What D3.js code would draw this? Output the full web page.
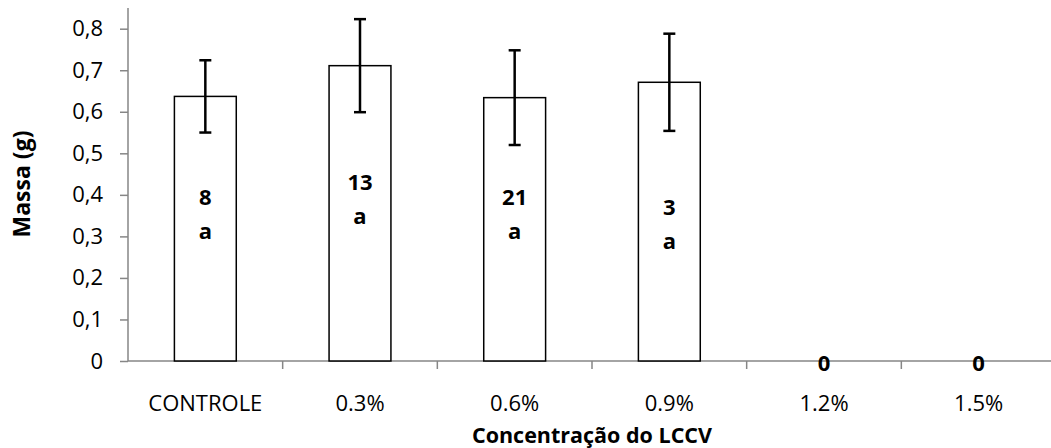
<!DOCTYPE html>
<html>
<head>
<meta charset="utf-8">
<script src="https://cdn.jsdelivr.net/npm/d3@7"></script>
<style>
  body { margin: 0; background: #fff; }
  text { font-family: "Open Sans", sans-serif; fill: #000; }
</style>
</head>
<body>
<div id="chart"></div>
<script>
// data
var categories = ["CONTROLE", "0.3%", "0.6%", "0.9%", "1.2%", "1.5%"];
var means = [0.637, 0.711, 0.634, 0.671, 0, 0];
var errors = [0.087, 0.112, 0.114, 0.117, 0, 0];
var counts = ["8", "13", "21", "3", "0", "0"];
var letters = ["a", "a", "a", "a", "", ""];
// where the label pair sits, in axis units
var labelLevel = [0.354, 0.39, 0.352, 0.33, 0, 0];
var yTicks = [0, 0.1, 0.2, 0.3, 0.4, 0.5, 0.6, 0.7, 0.8];

var width = 1051, height = 448;
var margin = {top: 8, left: 128, bottom: 87, right: 0};
var plotRight = 1056;

var svg = d3.select("#chart").append("svg")
  .attr("width", width)
  .attr("height", height);

var x = d3.scaleBand()
  .domain(categories)
  .range([margin.left, plotRight]);

var y = d3.scaleLinear()
  .domain([0, 0.8])
  .range([361, 28.7]);

var axisColor = "#868686";

// y axis
var yAxis = svg.append("g")
  .attr("transform", "translate(" + margin.left + ",0)")
  .call(d3.axisLeft(y).tickValues(yTicks).tickSize(8).tickPadding(17)
    .tickFormat(function(d){ return d === 0 ? "0" : d3.format(".1f")(d).replace(".", ","); }));
yAxis.select(".domain").attr("d", "M0," + margin.top + "V" + y(0)).attr("stroke", axisColor).attr("stroke-width", 1.5);
yAxis.selectAll(".tick line").attr("stroke", axisColor).attr("stroke-width", 1.5);
yAxis.selectAll("text").attr("font-size", 22).style("font-family", "'Open Sans', sans-serif").attr("fill", "#000");

// x axis line and ticks between categories
svg.append("line")
  .attr("x1", margin.left).attr("x2", plotRight)
  .attr("y1", y(0)).attr("y2", y(0))
  .attr("stroke", axisColor).attr("stroke-width", 1.5);

svg.selectAll("line.xtick")
  .data(categories.slice(1))
  .enter()
  .append("line")
    .attr("class", "xtick")
    .attr("x1", function(d){ return x(d); })
    .attr("x2", function(d){ return x(d); })
    .attr("y1", y(0)).attr("y2", y(0) + 8)
    .attr("stroke", axisColor).attr("stroke-width", 1.5);

svg.selectAll("text.xlabel")
  .data(categories)
  .enter()
  .append("text")
    .attr("class", "xlabel")
    .attr("x", function(d){ return x(d) + x.bandwidth() / 2; })
    .attr("y", 411)
    .attr("text-anchor", "middle")
    .attr("font-size", 22)
    .text(function(d){ return d; });

// bars
var barW = x.bandwidth() * 0.4;
var barData = categories.map(function(c, i){ return {cat: c, mean: means[i], err: errors[i], n: counts[i], letter: letters[i], level: labelLevel[i]}; });

svg.selectAll("rect.bar")
  .data(barData.filter(function(d){ return d.mean > 0; }))
  .enter()
  .append("rect")
    .attr("class", "bar")
    .attr("x", function(d){ return x(d.cat) + (x.bandwidth() - barW) / 2; })
    .attr("y", function(d){ return y(d.mean); })
    .attr("width", barW)
    .attr("height", function(d){ return y(0) - y(d.mean); })
    .attr("fill", "#fff")
    .attr("stroke", "#000")
    .attr("stroke-width", 1.5);

// error bars
var eb = svg.selectAll("g.err")
  .data(barData.filter(function(d){ return d.err > 0; }))
  .enter()
  .append("g")
    .attr("class", "err")
    .attr("transform", function(d){ return "translate(" + (x(d.cat) + x.bandwidth() / 2) + ",0)"; });

eb.append("line")
  .attr("y1", function(d){ return y(d.mean + d.err); })
  .attr("y2", function(d){ return y(d.mean - d.err); })
  .attr("stroke", "#000").attr("stroke-width", 2.5);
eb.append("line")
  .attr("x1", -6).attr("x2", 6)
  .attr("y1", function(d){ return y(d.mean + d.err); })
  .attr("y2", function(d){ return y(d.mean + d.err); })
  .attr("stroke", "#000").attr("stroke-width", 2.5);
eb.append("line")
  .attr("x1", -6).attr("x2", 6)
  .attr("y1", function(d){ return y(d.mean - d.err); })
  .attr("y2", function(d){ return y(d.mean - d.err); })
  .attr("stroke", "#000").attr("stroke-width", 2.5);

// labels in the bars
svg.selectAll("text.count")
  .data(barData)
  .enter()
  .append("text")
    .attr("class", "count")
    .attr("x", function(d){ return x(d.cat) + x.bandwidth() / 2; })
    .attr("y", function(d){ return d.letter ? y(d.level) - 17 : y(0) + 2; })
    .attr("dy", "0.35em")
    .attr("text-anchor", "middle")
    .attr("font-size", 22)
    .attr("font-weight", "bold")
    .text(function(d){ return d.n; });

svg.selectAll("text.letter")
  .data(barData.filter(function(d){ return d.letter; }))
  .enter()
  .append("text")
    .attr("class", "letter")
    .attr("x", function(d){ return x(d.cat) + x.bandwidth() / 2; })
    .attr("y", function(d){ return y(d.level) + 17; })
    .attr("dy", "0.35em")
    .attr("text-anchor", "middle")
    .attr("font-size", 22)
    .attr("font-weight", "bold")
    .text(function(d){ return d.letter; });

// axis titles
svg.append("text")
  .attr("transform", "translate(22,184) rotate(-90)")
  .attr("text-anchor", "middle")
  .attr("dy", "0.35em")
  .attr("font-size", 23)
  .attr("font-weight", "bold")
  .text("Massa (g)");

svg.append("text")
  .attr("x", (margin.left + plotRight) / 2)
  .attr("y", 435)
  .attr("dy", "0.35em")
  .attr("text-anchor", "middle")
  .attr("font-size", 21.5)
  .attr("font-weight", "bold")
  .text("Concentração do LCCV");
</script>
</body>
</html>
